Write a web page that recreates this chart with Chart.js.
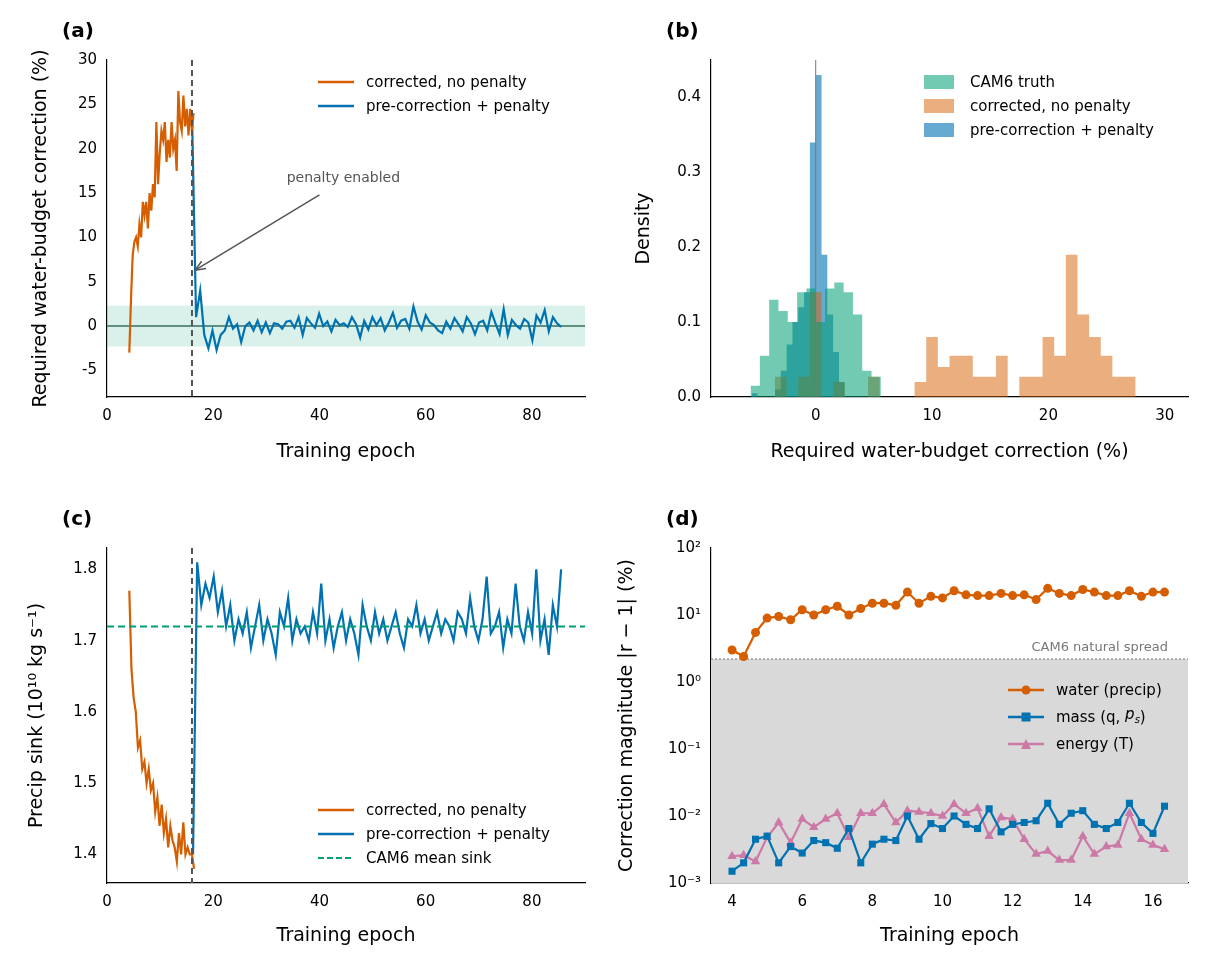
<!DOCTYPE html>
<html>
<head>
<meta charset="utf-8">
<script src="https://cdn.jsdelivr.net/npm/chart.js@4"></script>
<style>
  body { margin: 0; background: #fff; font-family: "DejaVu Sans", sans-serif; }
  #page { position: relative; width: 1228px; height: 972px; }
  .box { position: absolute; }
  .tag { position: absolute; font-weight: bold; font-size: 20px; }
  .legend { position: absolute; font-size: 15px; line-height: 24px; }
  .legend div { display: flex; align-items: center; }
  .legend svg { margin-right: 12px; }
</style>
</head>
<body>
<div id="page">
  <div class="box" style="left:0;top:20px;width:600px;height:460px"><canvas id="ca"></canvas></div>
  <div class="box" style="left:600px;top:20px;width:628px;height:460px"><canvas id="cb"></canvas></div>
  <div class="box" style="left:0;top:505px;width:600px;height:460px"><canvas id="cc"></canvas></div>
  <div class="box" style="left:600px;top:505px;width:628px;height:460px"><canvas id="cd"></canvas></div>

  <div class="tag" style="left:62px;top:18px">(a)</div>
  <div class="tag" style="left:666px;top:18px">(b)</div>
  <div class="tag" style="left:62px;top:506px">(c)</div>
  <div class="tag" style="left:666px;top:506px">(d)</div>

  <div class="legend" style="left:318px;top:70px">
    <div><svg width="36" height="6"><line x1="0" y1="3" x2="36" y2="3" stroke="#D55E00" stroke-width="2.5"/></svg>corrected, no penalty</div>
    <div><svg width="36" height="6"><line x1="0" y1="3" x2="36" y2="3" stroke="#0072B2" stroke-width="2.5"/></svg>pre-correction + penalty</div>
  </div>
  <div class="legend" style="left:924px;top:70px">
    <div><svg width="30" height="14" style="margin-right:16px"><rect width="30" height="14" fill="rgba(0,158,115,0.55)"/></svg>CAM6 truth</div>
    <div><svg width="30" height="14" style="margin-right:16px"><rect width="30" height="14" fill="rgba(213,94,0,0.5)"/></svg>corrected, no penalty</div>
    <div><svg width="30" height="14" style="margin-right:16px"><rect width="30" height="14" fill="rgba(0,114,178,0.6)"/></svg>pre-correction + penalty</div>
  </div>
  <div class="legend" style="left:318px;top:798px">
    <div><svg width="36" height="6"><line x1="0" y1="3" x2="36" y2="3" stroke="#D55E00" stroke-width="2.5"/></svg>corrected, no penalty</div>
    <div><svg width="36" height="6"><line x1="0" y1="3" x2="36" y2="3" stroke="#0072B2" stroke-width="2.5"/></svg>pre-correction + penalty</div>
    <div><svg width="36" height="6"><line x1="0" y1="3" x2="36" y2="3" stroke="#009E73" stroke-width="2.2" stroke-dasharray="6,3"/></svg>CAM6 mean sink</div>
  </div>
  <div class="legend" style="left:1008px;top:678px">
    <div><svg width="36" height="12"><line x1="0" y1="6" x2="36" y2="6" stroke="#D55E00" stroke-width="2.5"/><circle cx="18" cy="6" r="4.5" fill="#D55E00"/></svg>water (precip)</div>
    <div><svg width="36" height="12"><line x1="0" y1="6" x2="36" y2="6" stroke="#0072B2" stroke-width="2.5"/><rect x="13.5" y="1.5" width="9" height="9" fill="#0072B2"/></svg>mass (q, <i>&nbsp;p<sub style="font-size:10px">s</sub></i>)</div>
    <div><svg width="36" height="12"><line x1="0" y1="6" x2="36" y2="6" stroke="#CC79A7" stroke-width="2.5"/><polygon points="18,1 23,11 13,11" fill="#CC79A7"/></svg>energy (T)</div>
  </div>
</div>
<script>
// Panel (a): required correction (%)
const aOrangeStart = 4.2, aOrangeEnd = 16.3;
const aOrange = [-3, 3, 8, 9.5, 10, 9, 11.5, 10, 14, 12.5, 14, 11, 15, 13, 16, 14.5, 23, 16, 19.5, 22,
  21, 23, 18.5, 21, 19, 23, 20, 21, 17.5, 26.5, 23, 22, 26, 22.5, 24.5, 21.5, 24.5, 22, 24];
const aBlueStart = 16.0, aBlueEnd = 85.5;
const aBlue = [24, 1, 4, -1, -2.5, -0.5, -2.7, -1, -0.5, 1, -0.3, 0.2, -1.8, 0, 0.4, -0.5, 0.6, -0.7, 0.4, -0.8,
  0.3, 0.2, -0.3, 0.5, 0.6, -0.2, 1.0, -1.0, 0.9, 0.3, -0.2, 1.4, 0, 0.5, -0.6, 0.7, 0.1, 0.3, -0.1, 1.0,
  0.2, -1.3, 0.6, -0.4, 1.0, 0.1, 0.9, -0.5, 0.4, 1.5, -0.2, 0.6, 0.8, -0.3, 2.2, 0.5, -0.4, 1.2, 0.4, 0.1,
  -0.5, -0.8, 0.5, -0.3, 0.9, 0.2, -0.6, 1.0, 0.3, -0.9, 0.4, 0.6, -0.5, 1.6, 0.3, -0.9, 1.9, -1.0, 0.7, 0.1,
  -0.3, 0.8, 0.4, -1.6, 1.2, 0.4, 1.8, -0.6, 1.0, 0.3, -0.1];
const aTicks = [-5, 0, 5, 10, 15, 20, 25, 30];
const aBand = 2.3;
const penaltyEpoch = 16;
const epochTicks = [0, 20, 40, 60, 80];

// Panel (b): histograms, bin edges and densities
const binsTruth = [-5.6, -4.8, -4.0, -3.2, -2.4, -1.6, -0.8, 0.0, 0.8, 1.6, 2.4, 3.2, 4.0, 4.8, 5.6];
const densTruth = [0.015, 0.055, 0.13, 0.115, 0.1, 0.14, 0.145, 0.1, 0.145, 0.153, 0.14, 0.11, 0.035, 0.027];
const binsCorr = [-3.5, -2.5, -1.5, -0.5, 0.5, 1.5, 2.5, 3.5, 4.5, 5.5, 6.5, 7.5, 8.5, 9.5, 10.5, 11.5, 12.5, 13.5,
  14.5, 15.5, 16.5, 17.5, 18.5, 19.5, 20.5, 21.5, 22.5, 23.5, 24.5, 25.5, 26.5, 27.5];
const densCorr = [0.027, 0, 0.027, 0.14, 0, 0.02, 0, 0, 0.027, 0, 0, 0, 0.02, 0.08, 0.04, 0.055, 0.055, 0.027,
  0.027, 0.055, 0, 0.027, 0.027, 0.08, 0.055, 0.19, 0.11, 0.08, 0.055, 0.027, 0.027];
const binsPen = [-5.5, -5.0, -4.5, -4.0, -3.5, -3.0, -2.5, -2.0, -1.5, -1.0, -0.5, 0.0, 0.5, 1.0, 1.5, 2.0, 2.5];
const densPen = [0.005, 0, 0, 0, 0.01, 0.035, 0.07, 0.1, 0.12, 0.14, 0.34, 0.43, 0.19, 0.11, 0.06, 0.02];
const bxTicks = [0, 10, 20, 30];
const byTicks = [0, 0.1, 0.2, 0.3, 0.4];

// Panel (c): precip sink
const cOrangeStart = 4.2, cOrangeEnd = 16.4;
const cOrange = [1.77, 1.66, 1.62, 1.60, 1.55, 1.56, 1.52, 1.53, 1.50, 1.52, 1.49, 1.50, 1.46, 1.48, 1.44, 1.47,
  1.43, 1.45, 1.41, 1.44, 1.42, 1.41, 1.39, 1.43, 1.40, 1.445, 1.40, 1.41, 1.40, 1.40, 1.38];
const cBlueStart = 16.2, cBlueEnd = 85.5;
const cBlue = [1.40, 1.81, 1.75, 1.78, 1.76, 1.79, 1.74, 1.77, 1.72, 1.75, 1.70, 1.73, 1.71, 1.74, 1.69, 1.72,
  1.75, 1.70, 1.73, 1.71, 1.68, 1.74, 1.72, 1.76, 1.70, 1.73, 1.71, 1.72, 1.70, 1.74, 1.71, 1.78, 1.70, 1.73,
  1.69, 1.72, 1.74, 1.70, 1.73, 1.71, 1.68, 1.75, 1.72, 1.70, 1.74, 1.71, 1.73, 1.70, 1.72, 1.74, 1.71, 1.69,
  1.73, 1.72, 1.75, 1.71, 1.73, 1.70, 1.72, 1.74, 1.71, 1.73, 1.72, 1.70, 1.74, 1.73, 1.71, 1.76, 1.72, 1.70,
  1.73, 1.79, 1.71, 1.72, 1.74, 1.69, 1.73, 1.71, 1.78, 1.72, 1.70, 1.74, 1.71, 1.80, 1.70, 1.73, 1.68, 1.75,
  1.72, 1.80];
const cTicks = [1.4, 1.5, 1.6, 1.7, 1.8];
const cam6Mean = 1.72;

// Panel (d): correction magnitudes per epoch
const dEpochs = [4.0, 4.33, 4.67, 5.0, 5.33, 5.67, 6.0, 6.33, 6.67, 7.0, 7.33, 7.67, 8.0, 8.33, 8.67, 9.0, 9.33, 9.67,
  10.0, 10.33, 10.67, 11.0, 11.33, 11.67, 12.0, 12.33, 12.67, 13.0, 13.33, 13.67, 14.0, 14.33, 14.67, 15.0, 15.33,
  15.67, 16.0, 16.33];
const dWater = [3, 2.4, 5.5, 9, 9.5, 8.5, 12, 10, 12, 13.5, 10, 12.5, 15, 15, 14, 22, 15, 19, 18, 23, 20, 19.5, 19.5,
  21, 19.5, 20, 17, 25, 21, 19.5, 24, 22, 19.5, 19.5, 23, 19, 22, 22];
const dMass = [0.0015, 0.002, 0.0045, 0.005, 0.002, 0.0035, 0.0028, 0.0043, 0.004, 0.0033, 0.0065, 0.002, 0.0038,
  0.0045, 0.0043, 0.01, 0.0045, 0.0077, 0.0065, 0.01, 0.0075, 0.0065, 0.0128, 0.0058, 0.0075, 0.008, 0.0085, 0.0155,
  0.0075, 0.011, 0.012, 0.0075, 0.0065, 0.008, 0.0155, 0.008, 0.0055, 0.014];
const dEnergy = [0.0025, 0.0026, 0.0021, 0.0048, 0.008, 0.004, 0.009, 0.0068, 0.009, 0.011, 0.0048, 0.011, 0.011,
  0.015, 0.008, 0.012, 0.0115, 0.011, 0.01, 0.015, 0.011, 0.013, 0.005, 0.0095, 0.009, 0.0045, 0.0027, 0.003,
  0.0022, 0.0022, 0.005, 0.0027, 0.0035, 0.0037, 0.011, 0.0045, 0.0037, 0.0032];
const dxTicks = [4, 6, 8, 10, 12, 14, 16];
const cam6Spread = 2.2;

const ORANGE = "#D55E00", BLUE = "#0072B2", GREEN = "#009E73", PINK = "#CC79A7";
const FONT = "DejaVu Sans";
Chart.defaults.font.family = FONT;
Chart.defaults.color = "#000";
Chart.defaults.animation = false;

function series(start, end, values) {
  const step = (end - start) / (values.length - 1);
  return values.map((v, i) => ({ x: start + i * step, y: v }));
}
function hist(edges, dens) {
  const pts = dens.map((d, i) => ({ x: edges[i], y: d }));
  pts.push({ x: edges[edges.length - 1], y: 0 });
  return pts;
}
function fixTicks(list) {
  return s => { s.ticks = list.map(v => ({ value: v })); };
}
function xAxis(min, max, ticks, title, height, extra) {
  return Object.assign({
    type: "linear", min: min, max: max,
    grid: { display: false, drawTicks: true, tickLength: 6, tickColor: "#000" },
    border: { display: true, color: "#000", width: 1.2 },
    ticks: { font: { size: 15 }, padding: 4 },
    title: { display: true, text: title, font: { size: 19 }, padding: { top: 2, bottom: 0 } },
    afterBuildTicks: fixTicks(ticks),
    afterFit: s => { s.height = height; }
  }, extra || {});
}
function yAxis(min, max, ticks, title, width, fmt, extra) {
  return Object.assign({
    min: min, max: max,
    grid: { display: false, drawTicks: true, tickLength: 6, tickColor: "#000" },
    border: { display: true, color: "#000", width: 1.2 },
    ticks: { font: { size: 15 }, padding: 4, autoSkip: false, callback: fmt },
    title: { display: true, text: title, font: { size: 19 }, padding: { top: 0, bottom: 0 } },
    afterBuildTicks: ticks ? fixTicks(ticks) : undefined,
    afterFit: s => { s.width = width; }
  }, extra || {});
}
function line(data, color, extra) {
  return Object.assign({ data: data, borderColor: color, borderWidth: 2.2, pointRadius: 0, tension: 0 }, extra || {});
}
function vline(chart, x, color, dash, width) {
  const ctx = chart.ctx, xs = chart.scales.x, a = chart.chartArea;
  const px = xs.getPixelForValue(x);
  ctx.save();
  ctx.strokeStyle = color; ctx.lineWidth = width; ctx.setLineDash(dash);
  ctx.beginPath(); ctx.moveTo(px, a.top); ctx.lineTo(px, a.bottom); ctx.stroke();
  ctx.restore();
}
function hline(chart, y, color, dash, width) {
  const ctx = chart.ctx, ys = chart.scales.y, a = chart.chartArea;
  const py = ys.getPixelForValue(y);
  ctx.save();
  ctx.strokeStyle = color; ctx.lineWidth = width; ctx.setLineDash(dash);
  ctx.beginPath(); ctx.moveTo(a.left, py); ctx.lineTo(a.right, py); ctx.stroke();
  ctx.restore();
}
const noLegend = { legend: { display: false }, tooltip: { enabled: false } };

// (a)
new Chart(document.getElementById("ca"), {
  type: "line",
  data: { datasets: [line(series(aOrangeStart, aOrangeEnd, aOrange), ORANGE), line(series(aBlueStart, aBlueEnd, aBlue), BLUE)] },
  options: {
    responsive: true, maintainAspectRatio: false,
    layout: { padding: { top: 40, right: 15, left: 30, bottom: 17 } },
    plugins: noLegend,
    scales: {
      x: xAxis(0, 90, epochTicks, "Training epoch", 66),
      y: yAxis(-8, 30, aTicks, "Required water-budget correction (%)", 77, v => String(v))
    }
  },
  plugins: [{
    id: "aExtras",
    beforeDatasetsDraw(chart) {
      const ctx = chart.ctx, ys = chart.scales.y, a = chart.chartArea;
      ctx.save();
      ctx.fillStyle = "rgba(0,158,115,0.15)";
      const t = ys.getPixelForValue(aBand), b = ys.getPixelForValue(-aBand);
      ctx.fillRect(a.left, t, a.right - a.left, b - t);
      ctx.restore();
      hline(chart, 0, "#5f8f7f", [], 2);
    },
    afterDatasetsDraw(chart) {
      vline(chart, penaltyEpoch, "#555", [6, 4], 2);
      const ctx = chart.ctx, xs = chart.scales.x, ys = chart.scales.y;
      const x0 = xs.getPixelForValue(40), y0 = ys.getPixelForValue(14.8);
      const x1 = xs.getPixelForValue(16.6), y1 = ys.getPixelForValue(6.3);
      ctx.save();
      ctx.strokeStyle = "#555"; ctx.lineWidth = 1.5;
      ctx.beginPath(); ctx.moveTo(x0, y0); ctx.lineTo(x1, y1); ctx.stroke();
      const ang = Math.atan2(y1 - y0, x1 - x0);
      ctx.beginPath();
      ctx.moveTo(x1 - 11 * Math.cos(ang - 0.4), y1 - 11 * Math.sin(ang - 0.4));
      ctx.lineTo(x1, y1);
      ctx.lineTo(x1 - 11 * Math.cos(ang + 0.4), y1 - 11 * Math.sin(ang + 0.4));
      ctx.stroke();
      ctx.fillStyle = "#555"; ctx.font = "14px " + FONT; ctx.textAlign = "center";
      ctx.fillText("penalty enabled", xs.getPixelForValue(44.5), ys.getPixelForValue(16.2));
      ctx.restore();
    }
  }]
});

// (b)
function histSet(edges, dens, fill) {
  return { data: hist(edges, dens), stepped: true, borderWidth: 0, borderColor: "rgba(0,0,0,0)",
    backgroundColor: fill, fill: "origin", pointRadius: 0 };
}
new Chart(document.getElementById("cb"), {
  type: "line",
  data: { datasets: [
    histSet(binsTruth, densTruth, "rgba(0,158,115,0.55)"),
    histSet(binsCorr, densCorr, "rgba(213,94,0,0.5)"),
    histSet(binsPen, densPen, "rgba(0,114,178,0.6)")
  ] },
  options: {
    responsive: true, maintainAspectRatio: false,
    layout: { padding: { top: 40, right: 40, left: 33, bottom: 17 } },
    plugins: noLegend,
    scales: {
      x: xAxis(-9, 32, bxTicks, "Required water-budget correction (%)", 66),
      y: yAxis(0, 0.45, byTicks, "Density", 78, v => v.toFixed(1))
    }
  },
  plugins: [{
    id: "bExtras",
    afterDatasetsDraw(chart) { vline(chart, 0, "#777", [], 1); }
  }]
});

// (c)
new Chart(document.getElementById("cc"), {
  type: "line",
  data: { datasets: [line(series(cOrangeStart, cOrangeEnd, cOrange), ORANGE), line(series(cBlueStart, cBlueEnd, cBlue), BLUE)] },
  options: {
    responsive: true, maintainAspectRatio: false,
    layout: { padding: { top: 43, right: 15, left: 26, bottom: 18 } },
    plugins: noLegend,
    scales: {
      x: xAxis(0, 90, epochTicks, "Training epoch", 64),
      y: yAxis(1.36, 1.83, cTicks, "Precip sink (10\u00B9\u2070 kg s\u207B\u00B9)", 81, v => v.toFixed(1))
    }
  },
  plugins: [{
    id: "cExtras",
    afterDatasetsDraw(chart) {
      hline(chart, cam6Mean, GREEN, [7, 4], 2);
      vline(chart, penaltyEpoch, "#555", [6, 4], 2);
    }
  }]
});

// (d)
const SUP = { "-": "\u207B", "0": "\u2070", "1": "\u00B9", "2": "\u00B2", "3": "\u00B3" };
function pow10Label(v) {
  const e = Math.log10(v);
  if (Math.abs(e - Math.round(e)) > 1e-6) return "";
  return "10" + String(Math.round(e)).split("").map(c => SUP[c]).join("");
}
function markSet(ys, color, style, size) {
  return { data: dEpochs.map((x, i) => ({ x: x, y: ys[i] })), borderColor: color, backgroundColor: color,
    borderWidth: 2.2, pointStyle: style, pointRadius: size, pointBorderWidth: 0, tension: 0 };
}
new Chart(document.getElementById("cd"), {
  type: "line",
  data: { datasets: [markSet(dWater, ORANGE, "circle", 4.5), markSet(dMass, BLUE, "rect", 5), markSet(dEnergy, PINK, "triangle", 5.5)] },
  options: {
    responsive: true, maintainAspectRatio: false,
    layout: { padding: { top: 43, right: 40, left: 16, bottom: 18 } },
    plugins: noLegend,
    scales: {
      x: xAxis(3.4, 17, dxTicks, "Training epoch", 64),
      y: yAxis(0.001, 100, null, "Correction magnitude |r \u2212 1| (%)", 95, v => pow10Label(v), { type: "logarithmic" })
    }
  },
  plugins: [{
    id: "dExtras",
    beforeDatasetsDraw(chart) {
      const ctx = chart.ctx, ys = chart.scales.y, a = chart.chartArea;
      const t = ys.getPixelForValue(cam6Spread);
      ctx.save();
      ctx.fillStyle = "#d9d9d9";
      ctx.fillRect(a.left, t, a.right - a.left, a.bottom - t);
      ctx.restore();
      hline(chart, cam6Spread, "#999", [2, 2], 1.5);
      ctx.save();
      ctx.fillStyle = "#777"; ctx.font = "13px " + FONT; ctx.textAlign = "right";
      ctx.fillText("CAM6 natural spread", a.right - 20, t - 8);
      ctx.restore();
    }
  }]
});
</script>
</body>
</html>
